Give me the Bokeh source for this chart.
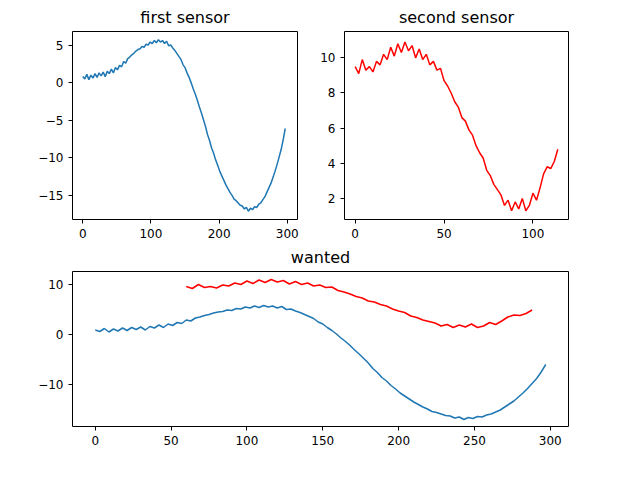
from bokeh.embed import file_html
from bokeh.layouts import column, row
from bokeh.models import FixedTicker
from bokeh.plotting import figure
from bokeh.resources import INLINE

# first sensor, sampled every 3 steps
first_x = list(range(0, 300, 3))
first_y = [0.8, 0.5, 1.1, 0.4, 1.0, 0.6, 1.2, 0.7, 1.3, 0.9, 1.4, 0.8, 1.5, 1.2, 1.8, 1.3, 2.0, 1.7,
           2.3, 2.1, 2.8, 2.6, 3.2, 3.4, 3.7, 3.9, 4.2, 4.4, 4.5, 4.8, 4.7, 5.1, 5.0, 5.4, 5.2, 5.6,
           5.3, 5.7, 5.4, 5.6, 5.2, 5.5, 4.9, 5.0, 4.6, 4.3, 3.9, 3.5, 3.1, 2.4, 2.0, 1.3, 0.7, 0.0,
           -0.8, -1.5, -2.3, -3.2, -4.0, -4.9, -5.8, -6.9, -7.7, -8.7, -9.4, -10.3, -11.0, -11.8,
           -12.4, -13.0, -13.6, -14.1, -14.6, -15.0, -15.5, -15.7, -16.0, -16.3, -16.4, -16.8,
           -16.6, -17.1, -16.7, -16.9, -16.5, -16.6, -16.2, -16.0, -15.6, -15.2, -14.6, -14.0,
           -13.4, -12.6, -11.8, -10.9, -9.9, -8.9, -7.6, -6.1]

# second sensor, sampled every 2 steps
second_x = list(range(0, 116, 2))
second_y = [9.5, 9.1, 9.9, 9.3, 9.5, 9.2, 9.8, 9.6, 10.2, 9.9, 10.6, 10.1, 10.8, 10.3, 10.9, 10.4,
            10.7, 10.0, 10.5, 9.9, 10.2, 9.6, 9.8, 9.3, 9.4, 8.7, 8.4, 8.0, 7.5, 7.2, 6.6, 6.4, 5.9,
            5.6, 5.0, 4.6, 4.3, 3.6, 3.3, 2.8, 2.5, 2.2, 1.6, 1.9, 1.3, 1.8, 1.4, 2.0, 1.3, 1.6,
            2.3, 1.9, 2.6, 3.4, 3.8, 3.7, 4.1, 4.8]

# where the second sensor sits on the first sensor's time base
offset = 60
scale = 2
wanted_x = [offset + scale * x for x in second_x]

BLUE = "#1f77b4"


def style(p):
    p.title.align = "center"
    p.title.text_font_size = "12pt"
    p.title.text_font_style = "normal"
    p.title.text_font = "DejaVu Sans"
    p.title.text_color = "black"
    p.xgrid.visible = False
    p.ygrid.visible = False
    p.outline_line_color = "black"
    for ax in (p.xaxis, p.yaxis):
        ax.axis_line_color = None
        ax.major_label_text_font = "DejaVu Sans"
        ax.major_label_text_font_size = "9pt"
        ax.major_label_text_color = "black"
        ax.minor_tick_line_color = None
        ax.major_tick_out = 4
        ax.major_tick_in = 0


p1 = figure(width=300, height=240, title="first sensor", output_backend="svg",
            toolbar_location=None, x_range=(-15, 315), y_range=(-18.2, 6.8))
p1.line(first_x, first_y, color=BLUE, line_width=1.5)
p1.xaxis.ticker = FixedTicker(ticks=[0, 100, 200, 300])
p1.yaxis.ticker = FixedTicker(ticks=[-15, -10, -5, 0, 5])
p1.min_border_left = 72
p1.min_border_right = 3
p1.min_border_top = 22
style(p1)

p2 = figure(width=324, height=240, title="second sensor", output_backend="svg",
            toolbar_location=None, x_range=(-6, 120), y_range=(0.8, 11.5))
p2.line(second_x, second_y, color="red", line_width=1.5)
p2.xaxis.ticker = FixedTicker(ticks=[0, 50, 100])
p2.yaxis.ticker = FixedTicker(ticks=[2, 4, 6, 8, 10])
p2.min_border_left = 44
p2.min_border_right = 56
p2.min_border_top = 22
style(p2)

p3 = figure(width=624, height=220, title="wanted", output_backend="svg",
            toolbar_location=None, x_range=(-15, 312), y_range=(-18.5, 12.5))
p3.line(first_x, first_y, color=BLUE, line_width=1.5)
p3.line(wanted_x, second_y, color="red", line_width=1.5)
p3.xaxis.ticker = FixedTicker(ticks=[0, 50, 100, 150, 200, 250, 300])
p3.yaxis.ticker = FixedTicker(ticks=[-10, 0, 10])
p3.min_border_left = 72
p3.min_border_right = 56
p3.min_border_bottom = 34
style(p3)

layout = column(row(p1, p2), p3)
open("out.html", "w").write(file_html(layout, INLINE))
